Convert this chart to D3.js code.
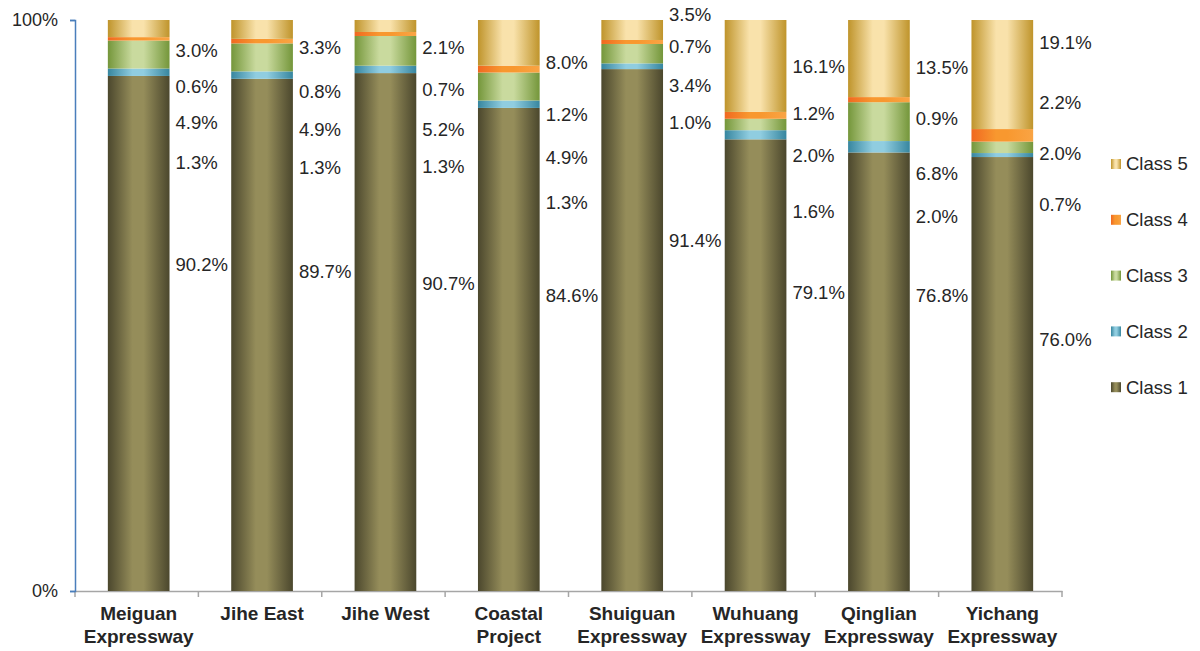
<!DOCTYPE html>
<html>
<head>
<meta charset="utf-8">
<script src="https://cdn.jsdelivr.net/npm/d3@7"></script>
<style>
  body { margin: 0; background: #fff; }
  text { font-family: "Liberation Sans", Arial, sans-serif; fill: #262626; }
</style>
</head>
<body>
<div class="chart"></div>
<script>
// categories and series (percent share of each class)
var categories = ["Meiguan Expressway", "Jihe East", "Jihe West", "Coastal Project",
  "Shuiguan Expressway", "Wuhuang Expressway", "Qinglian Expressway", "Yichang Expressway"];
var classNames = ["Class 1", "Class 2", "Class 3", "Class 4", "Class 5"];

var class1 = [90.2, 89.7, 90.7, 84.6, 91.4, 79.1, 76.8, 76.0];
var class2 = [1.3, 1.3, 1.3, 1.3, 1.0, 1.6, 2.0, 0.7];
var class3 = [4.9, 4.9, 5.2, 4.9, 3.4, 2.0, 6.8, 2.0];
var class4 = [0.6, 0.8, 0.7, 1.2, 0.7, 1.2, 0.9, 2.2];
var class5 = [3.0, 3.3, 2.1, 8.0, 3.5, 16.1, 13.5, 19.1];

var yTicks = [0, 100];

// where each data label sits (in % of the y axis), per class, per bar
var labelAt = [
  [57.1, 55.9, 53.9, 51.8, 61.3, 52.2, 51.7, 44.0],
  [75.1, 74.1, 74.4, 68.1, 82.1, 66.4, 65.5, 67.6],
  [82.0, 80.9, 80.9, 76.0, 88.6, 76.2, 73.2, 76.7],
  [88.3, 87.4, 87.9, 83.4, 95.4, 83.7, 82.7, 85.5],
  [94.7, 95.1, 95.1, 92.5, 100.9, 91.8, 91.6, 96.1]
];

var series = [class1, class2, class3, class4, class5];

// gradient colours: edge, centre, other edge
var palettes = [
  ["#4b472d", "#958d5a", "#4b472d"],
  ["#37869f", "#90cde0", "#37869f"],
  ["#74963a", "#c9da9e", "#74963a"],
  ["#f06820", "#f8982f", "#f9a444"],
  ["#bf942b", "#f9e2ab", "#bf942b"]
];

var svgWidth = 1200;
var svgHeight = 651;
var margin = { top: 20, right: 138, bottom: 60, left: 75 };
var width = svgWidth - margin.left - margin.right;
var height = svgHeight - margin.top - margin.bottom;

var svg = d3.select(".chart")
  .append("svg")
  .attr("width", svgWidth)
  .attr("height", svgHeight);

var defs = svg.append("defs");
palettes.forEach(function(p, i) {
  var g = defs.append("linearGradient")
    .attr("id", "grad" + i)
    .attr("x1", "0%").attr("x2", "100%")
    .attr("y1", "0%").attr("y2", "0%");
  g.append("stop").attr("offset", "0%").attr("stop-color", p[0]);
  g.append("stop").attr("offset", "40%").attr("stop-color", p[1]);
  g.append("stop").attr("offset", "58%").attr("stop-color", p[1]);
  g.append("stop").attr("offset", "100%").attr("stop-color", p[2]);
});

var chartGroup = svg.append("g")
  .attr("transform", `translate(${margin.left}, ${margin.top})`);

// build table for d3.stack
var table = categories.map(function(c, i) {
  var row = { cat: c };
  classNames.forEach(function(k, j) { row[k] = series[j][i]; });
  return row;
});

var stacked = d3.stack().keys(classNames)(table);

var xScale = d3.scaleBand()
  .domain(categories)
  .range([0, width])
  .paddingInner(0.5)
  .paddingOuter(0.25);

var yScale = d3.scaleLinear()
  .domain([0, 100])
  .range([height, 0]);

// x axis
var bottomAxis = d3.axisBottom(xScale).tickSize(0).tickFormat("");
var xAxis = chartGroup.append("g")
  .attr("transform", `translate(0, ${height})`)
  .call(bottomAxis);
xAxis.select(".domain").attr("stroke", "#a6a6a6").attr("stroke-width", 1.5);

chartGroup.append("g")
  .selectAll("line")
  .data(d3.range(categories.length + 1))
  .enter()
  .append("line")
  .attr("x1", d => d * width / categories.length)
  .attr("x2", d => d * width / categories.length)
  .attr("y1", height)
  .attr("y2", height + 6)
  .attr("stroke", "#a6a6a6")
  .attr("stroke-width", 1.5);

// category labels, wrapped to two lines when wider than a band
var catLabels = chartGroup.append("g").selectAll("text")
  .data(categories)
  .enter()
  .append("text")
  .attr("text-anchor", "middle")
  .attr("font-size", 19)
  .attr("font-weight", "bold")
  .attr("transform", d => `translate(${xScale(d) + xScale.bandwidth() / 2 + 2}, ${height + 29})`);

catLabels.each(function(d) {
  var t = d3.select(this);
  t.text(d);
  if (this.getComputedTextLength() > xScale.step() - 6) {
    t.text(null);
    d.split(" ").forEach(function(w, i) {
      t.append("tspan").attr("x", 0).attr("dy", i === 0 ? 0 : 23).text(w);
    });
  }
});

// y axis
var leftAxis = d3.axisLeft(yScale)
  .tickValues(yTicks)
  .tickSize(5)
  .tickPadding(12)
  .tickFormat(d => d + "%");
var yAxis = chartGroup.append("g").call(leftAxis);
yAxis.select(".domain").attr("stroke", "#4a7ebb").attr("stroke-width", 1.5);
yAxis.selectAll(".tick line").attr("stroke", "#4a7ebb").attr("stroke-width", 1.5);
yAxis.selectAll(".tick text")
  .attr("font-size", 18)
  .attr("font-family", "Liberation Sans, Arial, sans-serif")
  .attr("fill", "#262626");

// bars
var layers = chartGroup.append("g").selectAll("g")
  .data(stacked)
  .enter()
  .append("g")
  .attr("fill", (d, i) => `url(#grad${i})`);

layers.selectAll("rect")
  .data(d => d)
  .enter()
  .append("rect")
  .attr("x", d => xScale(d.data.cat) + 2)
  .attr("y", d => yScale(d[1]))
  .attr("height", d => yScale(d[0]) - yScale(d[1]))
  .attr("width", xScale.bandwidth());

// data labels
series.forEach(function(vals, j) {
  chartGroup.append("g").selectAll("text")
    .data(vals)
    .enter()
    .append("text")
    .attr("x", (d, i) => xScale(categories[i]) + xScale.bandwidth() + 8)
    .attr("y", (d, i) => yScale(labelAt[j][i]))
    .attr("dy", "0.35em")
    .attr("font-size", 18.5)
    .text(d => d.toFixed(1) + "%");
});

// legend
var legend = svg.append("g")
  .attr("transform", "translate(1111, 164)");

var legendItems = legend.selectAll("g")
  .data(classNames.slice().reverse())
  .enter()
  .append("g")
  .attr("transform", (d, i) => `translate(0, ${i * 55.8})`);

legendItems.append("rect")
  .attr("x", 0)
  .attr("y", -5)
  .attr("width", 10)
  .attr("height", 10)
  .attr("fill", d => `url(#grad${classNames.indexOf(d)})`);

legendItems.append("text")
  .attr("x", 15)
  .attr("dy", "0.35em")
  .attr("font-size", 18.5)
  .text(d => d);
</script>
</body>
</html>
